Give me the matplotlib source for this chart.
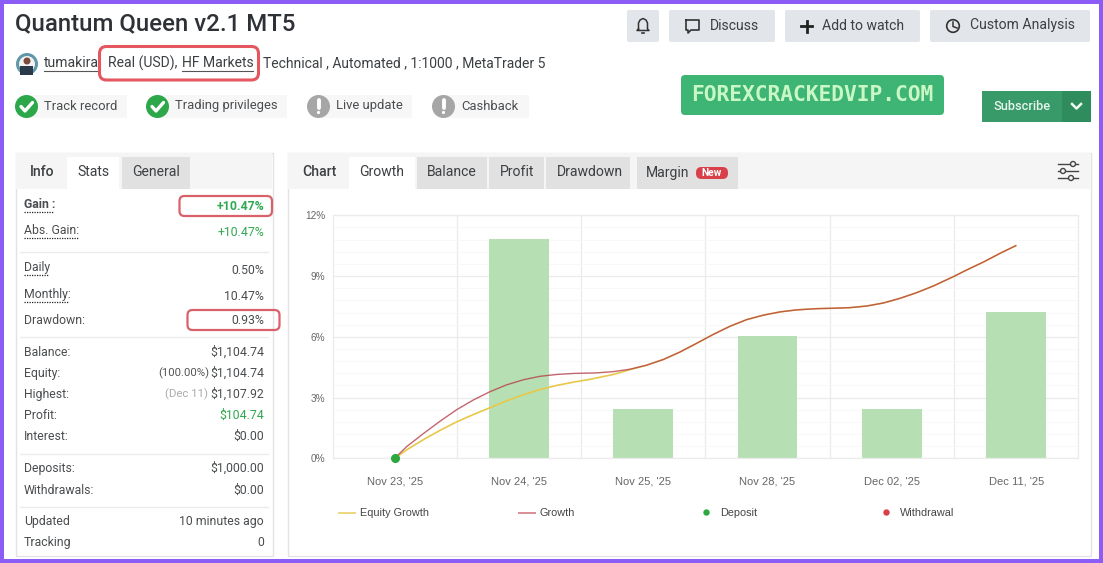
import matplotlib
matplotlib.use("Agg")
import matplotlib.pyplot as plt
from matplotlib.patches import Rectangle, FancyBboxPatch, Circle
from matplotlib.lines import Line2D

W, H = 1103, 563

# ---------- data ----------
categories = ["Nov 23, '25", "Nov 24, '25", "Nov 25, '25", "Nov 28, '25", "Dec 02, '25", "Dec 11, '25"]
bar_positions = [1, 2, 3, 4, 5]
bar_values = [10.83, 2.43, 6.04, 2.43, 7.22]
line_positions = [0, 0.097, 0.231, 0.365, 0.499, 0.633, 0.767, 0.902, 1.036, 1.170, 1.304, 1.438,
                  1.572, 1.626, 1.760, 1.894, 2.028, 2.162, 2.296, 2.430, 2.564, 2.698, 2.833,
                  2.967, 3.101, 3.235, 3.395, 3.530, 3.664, 3.798, 3.932, 4.066, 4.200, 4.334,
                  4.495, 4.602, 4.736, 4.870, 4.997]
growth_values = [0, 0.58, 1.22, 1.83, 2.40, 2.88, 3.29, 3.63, 3.88, 4.05, 4.14, 4.19,
                 4.21, 4.22, 4.28, 4.40, 4.60, 4.88, 5.25, 5.68, 6.12, 6.52, 6.85,
                 7.07, 7.23, 7.33, 7.39, 7.41, 7.44, 7.52, 7.67, 7.90, 8.18, 8.51,
                 8.97, 9.30, 9.69, 10.12, 10.50]
equity_values = [0, 0.42, 0.92, 1.38, 1.80, 2.16, 2.50, 2.84, 3.14, 3.40, 3.60, 3.76,
                 3.90, 3.97, 4.14, 4.38, 4.60, 4.88, 5.25, 5.68, 6.12, 6.52, 6.85,
                 7.07, 7.23, 7.33, 7.39, 7.41, 7.44, 7.52, 7.67, 7.90, 8.18, 8.51,
                 8.97, 9.30, 9.69, 10.12, 10.50]
deposit_positions = [0]
deposit_values = [0]
y_ticks = [0, 3, 6, 9, 12]
y_minor = [0.6, 1.2, 1.8, 2.4, 3.6, 4.2, 4.8, 5.4, 6.6, 7.2, 7.8, 8.4, 9.6, 10.2, 10.8, 11.4]

stat_rows = [
    ("Gain :", "+10.47%", 204, 207),
    ("Abs. Gain:", "+10.47%", 230, 232.5),
    ("Daily", "0.50%", 267.5, 270),
    ("Monthly:", "10.47%", 294.5, 296.5),
    ("Drawdown:", "0.93%", 320, 320.5),
    ("Balance:", "$1,104.74", 352.5, 352.5),
    ("Equity:", "$1,104.74", 373.5, 373.5),
    ("Highest:", "$1,107.92", 394.5, 394.5),
    ("Profit:", "$104.74", 415.5, 415.5),
    ("Interest:", "$0.00", 436.5, 436.5),
    ("Deposits:", "$1,000.00", 468.5, 468.5),
    ("Withdrawals:", "$0.00", 490, 490),
    ("Updated", "10 minutes ago", 521.5, 521.5),
    ("Tracking", "0", 542.5, 542.5),
]

# ---------- page ----------
fig = plt.figure(figsize=(W / 100, H / 100), dpi=100, facecolor="white")
ui = fig.add_axes([0, 0, 1, 1], zorder=1)
ui.set_xlim(0, W)
ui.set_ylim(H, 0)
ui.axis("off")

TXT = "#3c4043"
UI_FONT = "Roboto"


def T(x, y, s, size=9.3, color=TXT, ha="left", weight="normal", family=UI_FONT, **kw):
    return ui.text(x, y, s, fontsize=size, color=color, ha=ha, va="center",
                   weight=weight, family=family, **kw)


def R(x0, y0, x1, y1, fc, ec="none", lw=0, z=1):
    ui.add_patch(Rectangle((x0, y0), x1 - x0, y1 - y0, fc=fc, ec=ec, lw=lw, zorder=z))


def RR(x0, y0, x1, y1, fc="none", ec="none", lw=0, r=3, z=1):
    ui.add_patch(FancyBboxPatch((x0 + r, y0 + r), x1 - x0 - 2 * r, y1 - y0 - 2 * r,
                                boxstyle=f"round,pad={r},rounding_size={r}",
                                fc=fc, ec=ec, lw=lw, zorder=z))


def L(xs, ys, color, lw=1.0, z=4, **kw):
    ui.add_line(Line2D(xs, ys, color=color, lw=lw, zorder=z, **kw))


PURPLE = "#8b5cf6"
for box in [(0, 0, W, 4), (0, 559, W, H), (0, 0, 4, H), (1098.5, 0, W, H)]:
    R(*box, fc=PURPLE, z=10)

# header
T(15, 23.5, "Quantum Queen v2.1 MT5", size=17.3, color="#2e3236", weight=500)

# avatar
ui.add_patch(Circle((27, 64), 11, fc="#5f97a8", ec="none", zorder=2))
ui.add_patch(Circle((27, 64), 8, fc="#f2f2f2", ec="none", zorder=2))
ui.add_patch(Circle((27, 61), 3.5, fc="#7a4a3a", ec="none", zorder=3))
ui.add_patch(Rectangle((20, 66), 13, 9, fc="#2b3a4a", ec="none", zorder=3))

T(44, 63, "tumakira", size=10.05)
L([44, 98], [70.5, 70.5], "#555555", 0.8)
T(108, 63, "Real (USD),", size=10.05)
T(182, 63, "HF Markets", size=10.05)
L([182, 253], [70.5, 70.5], "#555555", 0.8)
T(263, 63, "Technical , Automated , 1:1000 , MetaTrader 5", size=10)
RED = "#e4575f"
RR(99.5, 46.5, 258.5, 80, ec=RED, lw=2.2, r=7, z=5)

# badges
badges = [(15, 127, "Track record", True), (146, 287, "Trading privileges", True),
          (307, 412, "Live update", False), (432, 529, "Cashback", False)]
for x0, x1, label, ok in badges:
    R(x0 + 12, 95, x1, 118, fc="#f7f7f7")
    ui.add_patch(Circle((x0 + 11.5, 106.5), 11.5, fc="#2ca84a" if ok else "#a6a6a6", ec="none", zorder=3))
    if ok:
        L([x0 + 6, x0 + 10, x0 + 17.5], [106.5, 111, 102.5], "white", 2.4, solid_capstyle="round")
    else:
        L([x0 + 11.5, x0 + 11.5], [100, 108], "white", 2.8, solid_capstyle="round")
        ui.add_patch(Circle((x0 + 11.5, 112.5), 1.6, fc="white", ec="none", zorder=4))
    T(x0 + 29, 106, label, size=9.35, color="#4a4d50")

# top buttons
BTN = "#e2e5e9"
RR(627, 10, 659, 42, fc=BTN, r=2)
L([638.5, 638.5, 640, 643, 646, 647.5, 647.5, 649, 637, 638.5],
  [29, 23, 20, 18.5, 20, 23, 29, 30.5, 30.5, 29], "#333", 1.1)
L([642, 644], [33, 33], "#333", 1.2)

RR(669, 10, 775, 42, fc=BTN, r=2)
L([686, 699, 699, 691, 688, 688, 686, 686], [20, 20, 30, 30, 33, 30, 30, 20], "#333", 1.2)
T(710, 25.5, "Discuss", size=10.05)

RR(785, 10, 920, 42, fc=BTN, r=2)
L([801, 812], [26, 26], "#222", 2.0)
L([806.5, 806.5], [20.5, 31.5], "#222", 2.0)
T(822, 25.5, "Add to watch", size=10.05)

RR(930, 10, 1090, 42, fc=BTN, r=2)
ui.add_patch(Circle((953, 26), 6.3, fc="none", ec="#333", lw=1.2, zorder=4))
L([953, 953, 957], [22, 26.5, 28], "#333", 1.1)
T(970, 25.5, "Custom Analysis", size=10.05)

# banner and subscribe
RR(681, 75, 944, 115, fc="#3eb574", r=4)
T(812.5, 95, "FOREXCRACKEDVIP.COM", size=15.3, color="#c9f7c5", ha="center", weight="bold",
  family="DejaVu Sans Mono")
R(982, 91, 1062, 122, fc="#379a68")
R(1062, 91, 1091, 122, fc="#2f8c5c")
T(1022, 106.5, "Subscribe", size=9.2, color="#e8f5ee", ha="center", weight=500)
L([1072, 1076.5, 1081], [104, 108.5, 104], "#f0f8f4", 1.8)

# panels
BORDER = "#e3e3e3"
for x0, x1 in [(15.5, 272.5), (287.5, 1090.5)]:
    R(x0, 152.5, x1, 556, fc="white", ec=BORDER, lw=1.0)
    R(x0 + .5, 153, x1 - .5, 189, fc="#f5f5f5", z=2)

TAB = "#e1e1e1"
R(67, 157, 119, 189, fc="white", z=2)
R(122, 157, 190, 189, fc=TAB, z=2)
T(42, 172.5, "Info", size=10.05, ha="center", weight=500)
T(93, 172.5, "Stats", size=10.05, ha="center")
T(156, 172.5, "General", size=10.05, ha="center")

R(349, 157, 415, 189, fc="white", z=2)
for x0, x1 in [(417, 487), (489, 544), (546, 630), (637, 738)]:
    R(x0, 157, x1, 189, fc=TAB, z=2)
T(319, 172.5, "Chart", size=10.05, ha="center", weight=500)
T(382, 172.5, "Growth", size=10.05, ha="center")
T(452, 172.5, "Balance", size=10.05, ha="center")
T(517, 172.5, "Profit", size=10.05, ha="center")
T(590, 172.5, "Drawdown", size=10.05, ha="center")
T(646, 172.5, "Margin", size=10.05)
RR(696, 167, 728, 179, fc="#d9414a", r=5.5, z=3)
T(712, 173, "New", size=7.4, color="white", ha="center", weight="bold")

# settings icon
for yy, cx in [(164, 1073), (171, 1063), (178, 1071)]:
    L([1058, 1078], [yy, yy], "#444", 1.0)
    ui.add_patch(Circle((cx, yy), 2.5, fc="#f5f5f5", ec="#444", lw=1.0, zorder=5))

# stats rows
GREEN = "#2fa84f"
for label, value, yl, yv in stat_rows:
    bold = label.startswith("Gain")
    T(24, yl, label, size=8.8, weight="bold" if bold else "normal", color="#4a4d50")
    green = value.startswith("+") or value == "$104.74"
    T(264, yv, value, size=8.8, ha="right", color=GREEN if green else "#4a4d50",
      weight="bold" if bold else "normal")

T(209, 373.5, "(100.00%)", size=8.2, ha="right", color="#555")
T(208, 394.5, "(Dec 11)", size=8.2, ha="right", color="#aaaaaa")
for x1, yy in [(54, 212), (78, 237.5), (49, 274.5), (69, 301.5)]:
    L([24, x1], [yy, yy], "#222", 0.9, ls=(0, (1, 1)))
for yy in [251.5, 336.5, 453.5, 506.5]:
    L([20, 268], [yy, yy], "#ececec", 1.0)

RR(179.5, 196, 272, 216, ec="#d9626a", lw=1.6, r=5, z=5)
RR(187.5, 310, 279.5, 330, ec="#d9626a", lw=1.6, r=5, z=5)

# ---------- chart ----------
AX_L, AX_R, AX_T, AX_B = 332.5, 1078.3, 215.3, 458.3
ax = fig.add_axes([AX_L / W, 1 - AX_B / H, (AX_R - AX_L) / W, (AX_B - AX_T) / H], zorder=2)
ax.patch.set_alpha(0)
ax.set_xlim(-0.5, 5.5)
ax.set_ylim(0, 12)
ax.set_xticks(range(len(categories)))
ax.set_xticklabels(categories, family="Liberation Sans", fontsize=8, color="#666666")
ax.set_xticks([i + 0.5 for i in range(5)], minor=True)
ax.set_yticks(y_ticks)
ax.set_yticklabels([f"{v}%" for v in y_ticks], family="Liberation Sans", fontsize=7.2, color="#666666")
ax.set_yticks(y_minor, minor=True)
ax.tick_params(axis="both", which="both", length=0)
ax.tick_params(axis="x", which="major", pad=12.8)
ax.tick_params(axis="y", which="major", pad=5)
ax.grid(True, axis="x", which="minor", color="#ebebeb", lw=0.9)
ax.grid(True, axis="y", which="major", color="#ebebeb", lw=0.9)
ax.grid(True, axis="y", which="minor", color="#f8f8f8", lw=0.7)
ax.set_axisbelow(True)
for name, sp in ax.spines.items():
    sp.set_color("#ebebeb")
    sp.set_linewidth(0.9)

ax.bar(bar_positions, bar_values, width=0.48, color="#b6e0b3", zorder=2)
ax.plot(line_positions, equity_values, color="#e8c84a", lw=1.2, zorder=3, label="Equity Growth")
ax.plot(line_positions, growth_values, color="#b5404a", alpha=0.8, lw=1.0, zorder=4, label="Growth")
ax.plot(deposit_positions, deposit_values, "o", color="#2ca83f", ms=5.5, zorder=6,
        clip_on=False, label="Deposit")

# legend
LEG_Y = 512.5
L([339, 355], [LEG_Y, LEG_Y], "#ecd77f", 1.4)
T(360, LEG_Y, "Equity Growth", size=7.8, color="#444", family="Liberation Sans")
L([519, 535], [LEG_Y, LEG_Y], "#dc8d95", 1.4)
T(540, LEG_Y, "Growth", size=7.8, color="#444", family="Liberation Sans")
ui.add_patch(Circle((706.5, LEG_Y), 3.2, fc="#2ca83f", ec="none", zorder=4))
T(720, LEG_Y, "Deposit", size=7.8, color="#444", family="Liberation Sans")
ui.add_patch(Circle((886.5, LEG_Y), 3.2, fc="#d9414a", ec="none", zorder=4))
T(900, LEG_Y, "Withdrawal", size=7.8, color="#444", family="Liberation Sans")

fig.savefig("out.png", dpi=100, facecolor="white")
